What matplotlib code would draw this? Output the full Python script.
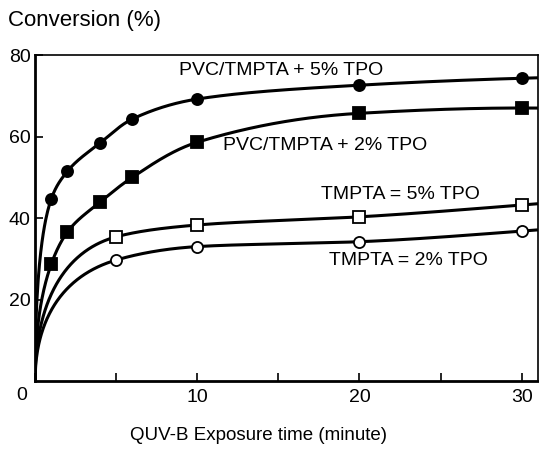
"""Photo-curing conversion vs QUV-B exposure time, four formulations."""

import numpy as np
import matplotlib
matplotlib.use("Agg")
import matplotlib.pyplot as plt
from matplotlib.ticker import MultipleLocator

plt.rcParams["font.family"] = ["Liberation Sans", "DejaVu Sans"]

# ---------------------------------------------------------------------------
# Data
# ---------------------------------------------------------------------------
PVC5_T = [1, 2, 4, 6, 10, 20, 30]
PVC5_Y = [44.7, 51.5, 58.4, 64.3, 69.2, 72.6, 74.3]

PVC2_T = [1, 2, 4, 6, 10, 20, 30]
PVC2_Y = [28.7, 36.6, 43.9, 50.0, 58.6, 65.7, 67.0]

TM5_T = [5, 10, 20, 30]
TM5_Y = [35.4, 38.3, 40.3, 43.2]

TM2_T = [5, 10, 20, 30]
TM2_Y = [29.7, 33.0, 34.2, 36.8]

LABELS = ["PVC/TMPTA + 5% TPO", "PVC/TMPTA + 2% TPO",
          "TMPTA = 5% TPO", "TMPTA = 2% TPO"]
LABEL_POS = [(15.2, 76.3), (17.9, 57.7), (22.5, 45.9), (23.0, 29.7)]


def _pchip(x, y, xq):
    """Monotone cubic (Fritsch-Carlson) through the points."""
    x = np.asarray(x, float)
    y = np.asarray(y, float)
    h = np.diff(x)
    d = np.diff(y) / h
    n = len(x)
    m = np.zeros(n)
    for k in range(1, n - 1):
        if d[k - 1] * d[k] > 0:
            w1 = 2 * h[k] + h[k - 1]
            w2 = h[k] + 2 * h[k - 1]
            m[k] = (w1 + w2) / (w1 / d[k - 1] + w2 / d[k])

    def _end(h0, h1, d0, d1):
        s = ((2 * h0 + h1) * d0 - h0 * d1) / (h0 + h1)
        if np.sign(s) != np.sign(d0):
            return 0.0
        if np.sign(d0) != np.sign(d1) and abs(s) > abs(3 * d0):
            return 3 * d0
        return s

    m[0] = _end(h[0], h[1], d[0], d[1])
    m[-1] = _end(h[-1], h[-2], d[-1], d[-2])

    idx = np.clip(np.searchsorted(x, xq) - 1, 0, n - 2)
    hk = h[idx]
    t = (xq - x[idx]) / hk
    return ((2 * t**3 - 3 * t**2 + 1) * y[idx]
            + (t**3 - 2 * t**2 + t) * hk * m[idx]
            + (-2 * t**3 + 3 * t**2) * y[idx + 1]
            + (t**3 - t**2) * hk * m[idx + 1])


def _smooth(t, y, t_grid):
    # interpolate in sqrt(time) so the curves leave the origin steeply
    u = np.sqrt(np.concatenate([[0.0], t]))
    yy = np.concatenate([[0.0], y])
    return _pchip(u, yy, np.sqrt(t_grid))


def main():
    fig = plt.figure(figsize=(5.39, 4.51), dpi=100)
    ax = fig.add_axes([0.065, 0.155, 0.933, 0.723])

    t_grid = np.linspace(0, 31, 800)
    series = [
        (PVC5_T, PVC5_Y, "o", "black"),
        (PVC2_T, PVC2_Y, "s", "black"),
        (TM5_T, TM5_Y, "s", "white"),
        (TM2_T, TM2_Y, "o", "white"),
    ]
    for t, yv, mk, fc in series:
        ax.plot(t_grid, _smooth(t, yv, t_grid), color="black", lw=2.2,
                solid_capstyle="butt", zorder=2)
        ax.plot(t, yv, ls="none", marker=mk, ms=8.5 if mk == "s" else 8,
                mfc=fc, mec="black", mew=1.3, zorder=3)

    for text, (x, y) in zip(LABELS, LABEL_POS):
        ax.text(x, y, text, ha="center", va="center", fontsize=14)

    ax.set_xlim(0, 31)
    ax.set_ylim(0, 80)
    ax.set_xticks([10, 20, 30])
    ax.xaxis.set_minor_locator(MultipleLocator(5))
    ax.set_yticks([20, 40, 60, 80])
    ax.tick_params(which="both", direction="in", labelsize=14,
                   width=1.2, length=6, top=False, right=False)
    ax.tick_params(axis="x", pad=6)
    ax.tick_params(axis="y", pad=3)
    for side, s in ax.spines.items():
        s.set_linewidth(2.0 if side in ("left", "bottom") else 1.2)
    # the shared origin label sits just left of the corner
    ax.text(-0.85, -3.5, "0", ha="center", va="center", fontsize=14,
            clip_on=False)

    fig.text(0.015, 0.955, "Conversion (%)", ha="left", va="center",
             fontsize=16)
    fig.text(0.479, 0.035, "QUV-B Exposure time (minute)", ha="center",
             va="center", fontsize=13.5)

    fig.savefig("out.png", dpi=100, facecolor="white")
    plt.close(fig)


if __name__ == "__main__":
    main()
